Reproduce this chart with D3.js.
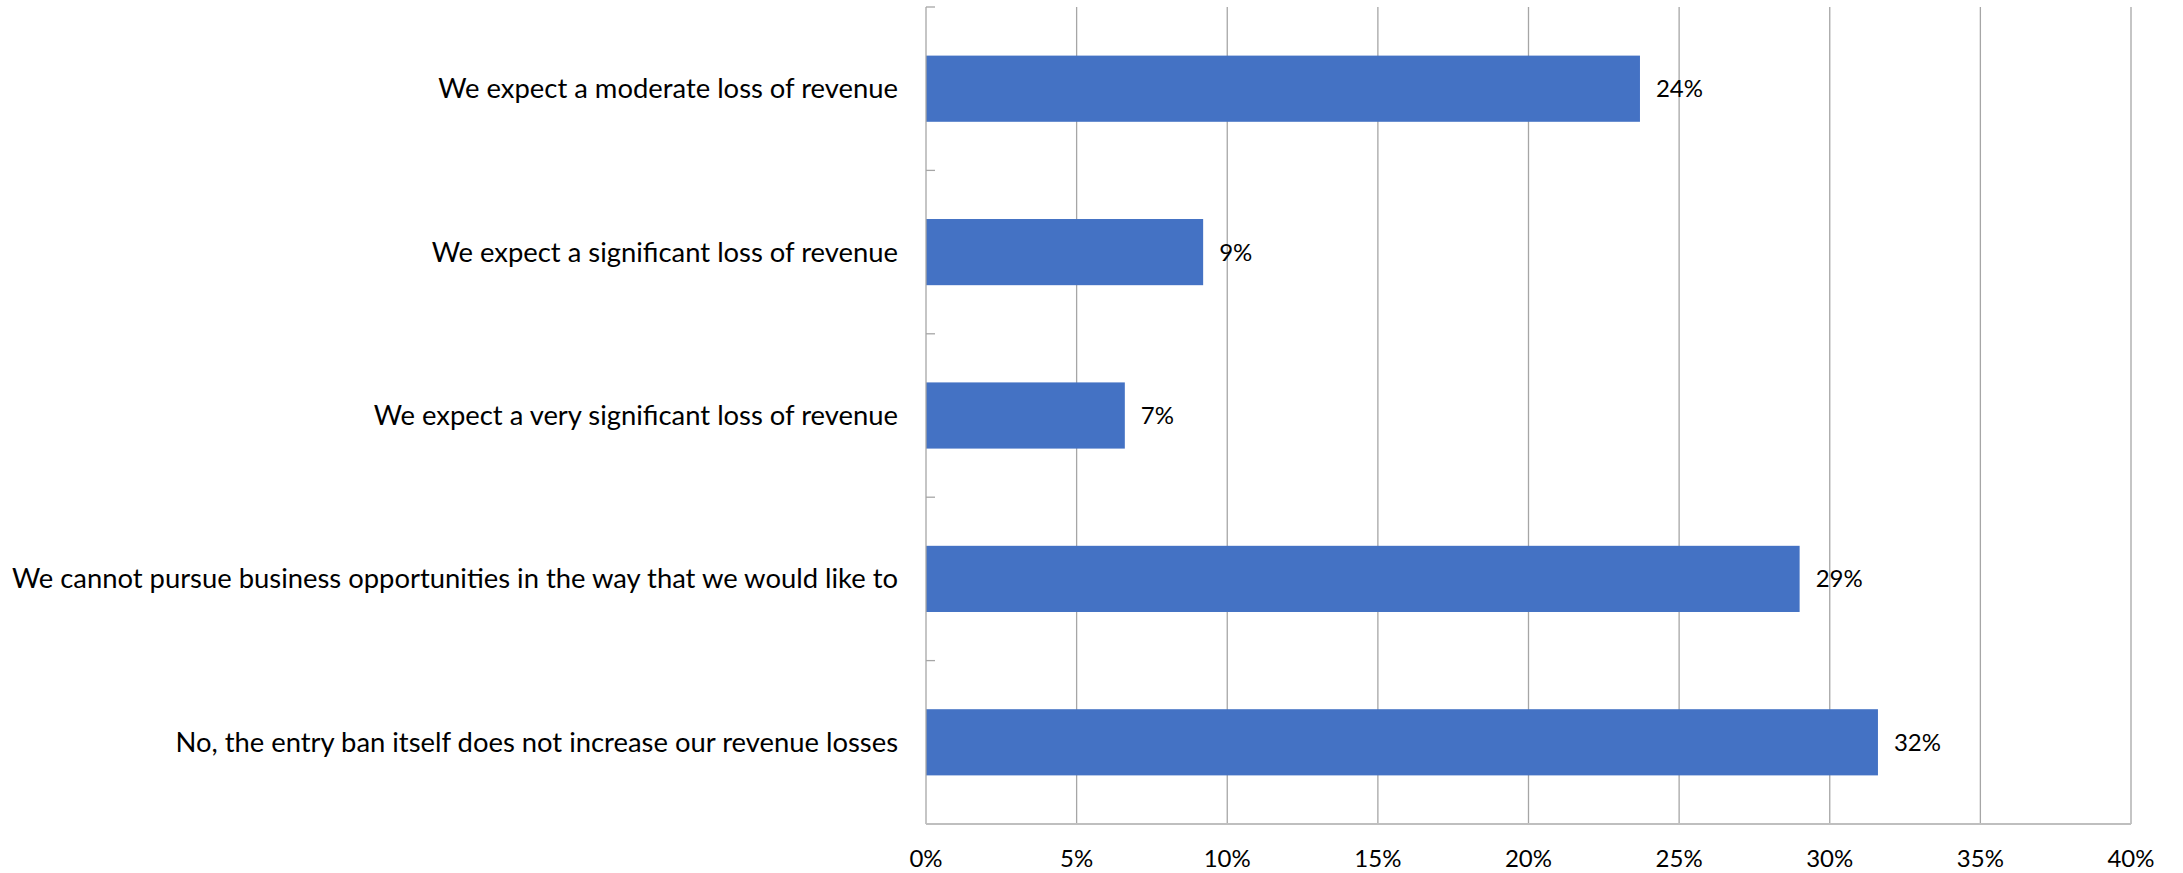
<!DOCTYPE html>
<html>
<head>
<meta charset="utf-8">
<script src="https://cdn.jsdelivr.net/npm/d3@7"></script>
<style>
  html, body { margin: 0; padding: 0; background: #fff; }
  svg text { font-family: Lato, "Open Sans", sans-serif; fill: #000; }
</style>
</head>
<body>
<svg id="chart" width="2183" height="873"></svg>
<script>
// Survey answers (top to bottom) and share of respondents in percent
const categories = [
  "We expect a moderate loss of revenue",
  "We expect a significant loss of revenue",
  "We expect a very significant loss of revenue",
  "We cannot pursue business opportunities in the way that we would like to",
  "No, the entry ban itself does not increase our revenue losses"
];
const values = [23.7, 9.2, 6.6, 29.0, 31.6];
const valueLabels = ["24%", "9%", "7%", "29%", "32%"];
const xTicks = [0, 5, 10, 15, 20, 25, 30, 35, 40];
const xTickLabels = ["0%", "5%", "10%", "15%", "20%", "25%", "30%", "35%", "40%"];

const svg = d3.select("#chart");
const margin = { top: 7, right: 52, bottom: 49, left: 926 };
const W = 2183, H = 873;
const innerW = W - margin.left - margin.right;
const innerH = H - margin.top - margin.bottom;

const g = svg.append("g").attr("transform", `translate(${margin.left},${margin.top})`);

const x = d3.scaleLinear().domain([0, 40]).range([0, innerW]);
const y = d3.scaleBand().domain(categories).range([0, innerH]).paddingInner(0.595).paddingOuter(0.2975);
const yBounds = d3.scaleLinear().domain([0, categories.length]).range([0, innerH]);

// vertical gridlines
g.append("g")
  .selectAll("line")
  .data(xTicks.slice(1))
  .join("line")
  .attr("x1", d => x(d)).attr("x2", d => x(d))
  .attr("y1", 0).attr("y2", innerH)
  .attr("stroke", "#a6a6a6").attr("stroke-width", 1.3);

// bars
g.append("g")
  .selectAll("rect")
  .data(categories)
  .join("rect")
  .attr("x", x(0))
  .attr("y", d => y(d))
  .attr("width", (d, i) => x(values[i]) - x(0))
  .attr("height", y.bandwidth())
  .attr("fill", "#4472C4");

// value labels
g.append("g")
  .selectAll("text")
  .data(categories)
  .join("text")
  .attr("x", (d, i) => x(values[i]) + 16)
  .attr("y", d => y(d) + y.bandwidth() / 2)
  .attr("dy", "0.35em")
  .attr("font-size", 24)
  .text((d, i) => valueLabels[i]);

// category axis line with boundary ticks
g.append("line")
  .attr("x1", 0).attr("x2", 0).attr("y1", 0).attr("y2", innerH)
  .attr("stroke", "#a6a6a6").attr("stroke-width", 1.3);
g.append("g")
  .selectAll("line")
  .data(d3.range(categories.length))
  .join("line")
  .attr("x1", 0).attr("x2", 9)
  .attr("y1", d => yBounds(d)).attr("y2", d => yBounds(d))
  .attr("stroke", "#a6a6a6").attr("stroke-width", 1.3);

// category labels
g.append("g")
  .selectAll("text")
  .data(categories)
  .join("text")
  .attr("x", -28)
  .attr("y", d => y(d) + y.bandwidth() / 2)
  .attr("dy", "0.35em")
  .attr("text-anchor", "end")
  .attr("font-size", 27.4)
  .text(d => d);

// value axis baseline
g.append("line")
  .attr("x1", 0).attr("x2", innerW).attr("y1", innerH).attr("y2", innerH)
  .attr("stroke", "#bfbfbf").attr("stroke-width", 2);

// value axis tick labels
g.append("g")
  .selectAll("text")
  .data(xTicks)
  .join("text")
  .attr("x", d => x(d))
  .attr("y", innerH + 35)
  .attr("dy", "0.35em")
  .attr("text-anchor", "middle")
  .attr("font-size", 24)
  .text((d, i) => xTickLabels[i]);
</script>
</body>
</html>
